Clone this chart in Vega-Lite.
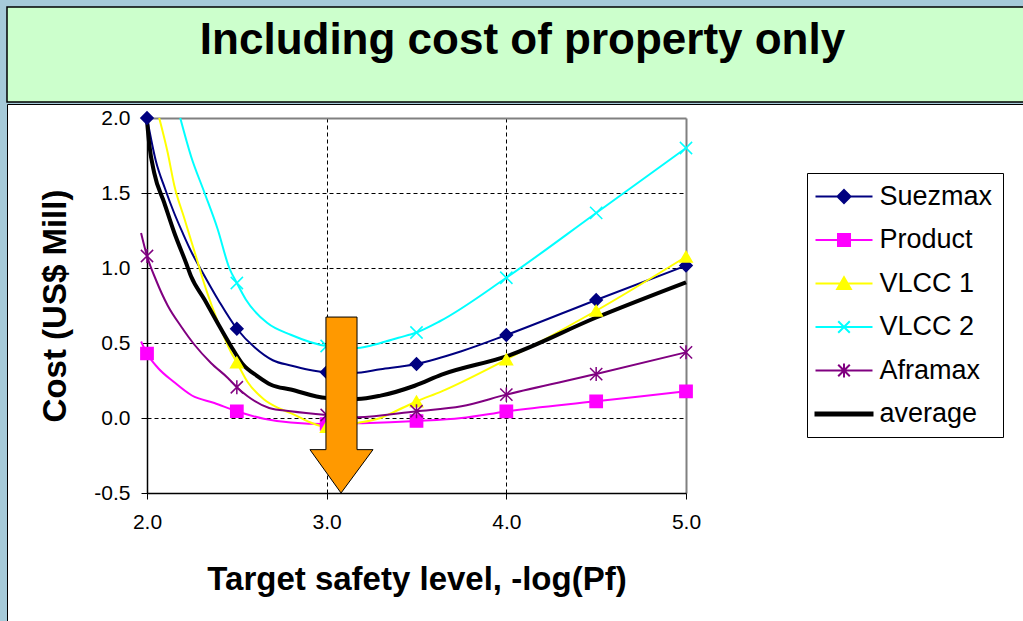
{
  "$schema": "https://vega.github.io/schema/vega-lite/v6.json",
  "background": "#a6cad9",
  "padding": {"left": 6, "top": 6, "right": 0, "bottom": 0},
  "spacing": 0,
  "config": {
    "font": "Liberation Sans",
    "axis": {
      "labelFont": "Liberation Sans",
      "labelFontSize": 21,
      "labelColor": "black",
      "labelFlush": false,
      "titleFont": "Liberation Sans",
      "titleFontSize": 33,
      "titleFontWeight": "bold",
      "titleColor": "black",
      "tickColor": "black",
      "tickSize": 6,
      "tickWidth": 1,
      "domainColor": "black",
      "domainWidth": 1.5
    },
    "legend": {
      "title": null,
      "orient": "none",
      "legendX": 800,
      "legendY": 69,
      "direction": "vertical",
      "padding": 10,
      "rowPadding": 15.5,
      "strokeColor": "black",
      "fillColor": "white",
      "symbolSize": 400,
      "symbolOffset": 13.5,
      "symbolOpacity": 1,
      "symbolStrokeWidth": 2,
      "labelOffset": 22,
      "labelFont": "Liberation Sans",
      "labelFontSize": 27,
      "labelColor": "black",
      "labelLimit": 0
    }
  },
  "datasets": {
    "heading": [{"text": "Including cost of property only"}],
    "arrow": [
      {"order": 1, "level": 3.08, "cost": -0.5},
      {"order": 2, "level": 3.258, "cost": -0.211},
      {"order": 3, "level": 3.169, "cost": -0.211},
      {"order": 4, "level": 3.169, "cost": 0.673},
      {"order": 5, "level": 2.996, "cost": 0.673},
      {"order": 6, "level": 2.996, "cost": -0.211},
      {"order": 7, "level": 2.907, "cost": -0.211},
      {"order": 8, "level": 3.08, "cost": -0.5}
    ],
    "costs": [
      {"series": "Suezmax", "level": 2.0, "cost": 2.0},
      {"series": "Suezmax", "level": 2.05, "cost": 1.71},
      {"series": "Suezmax", "level": 2.1, "cost": 1.53},
      {"series": "Suezmax", "level": 2.15, "cost": 1.37},
      {"series": "Suezmax", "level": 2.2, "cost": 1.23},
      {"series": "Suezmax", "level": 2.25, "cost": 1.1},
      {"series": "Suezmax", "level": 2.3, "cost": 0.99},
      {"series": "Suezmax", "level": 2.4, "cost": 0.78},
      {"series": "Suezmax", "level": 2.5, "cost": 0.595},
      {"series": "Suezmax", "level": 2.6, "cost": 0.47},
      {"series": "Suezmax", "level": 2.7, "cost": 0.385},
      {"series": "Suezmax", "level": 2.8, "cost": 0.35},
      {"series": "Suezmax", "level": 2.9, "cost": 0.322},
      {"series": "Suezmax", "level": 3.0, "cost": 0.305},
      {"series": "Suezmax", "level": 3.15, "cost": 0.3},
      {"series": "Suezmax", "level": 3.3, "cost": 0.325},
      {"series": "Suezmax", "level": 3.5, "cost": 0.36},
      {"series": "Suezmax", "level": 3.75, "cost": 0.445},
      {"series": "Suezmax", "level": 4.0, "cost": 0.553},
      {"series": "Suezmax", "level": 4.5, "cost": 0.787},
      {"series": "Suezmax", "level": 5.0, "cost": 1.016},

      {"series": "Product", "level": 1.967, "cost": 0.51},
      {"series": "Product", "level": 2.0, "cost": 0.43},
      {"series": "Product", "level": 2.06, "cost": 0.335},
      {"series": "Product", "level": 2.15, "cost": 0.24},
      {"series": "Product", "level": 2.25, "cost": 0.15},
      {"series": "Product", "level": 2.375, "cost": 0.1},
      {"series": "Product", "level": 2.5, "cost": 0.045},
      {"series": "Product", "level": 2.65, "cost": -0.005},
      {"series": "Product", "level": 2.8, "cost": -0.03},
      {"series": "Product", "level": 3.0, "cost": -0.04},
      {"series": "Product", "level": 3.2, "cost": -0.035},
      {"series": "Product", "level": 3.5, "cost": -0.02},
      {"series": "Product", "level": 3.75, "cost": 0.0},
      {"series": "Product", "level": 4.0, "cost": 0.044},
      {"series": "Product", "level": 4.5, "cost": 0.111},
      {"series": "Product", "level": 5.0, "cost": 0.178},

      {"series": "VLCC 1", "level": 2.068, "cost": 2.0},
      {"series": "VLCC 1", "level": 2.115, "cost": 1.77},
      {"series": "VLCC 1", "level": 2.152, "cost": 1.55},
      {"series": "VLCC 1", "level": 2.208, "cost": 1.33},
      {"series": "VLCC 1", "level": 2.282, "cost": 1.04},
      {"series": "VLCC 1", "level": 2.32, "cost": 0.89},
      {"series": "VLCC 1", "level": 2.4, "cost": 0.625},
      {"series": "VLCC 1", "level": 2.467, "cost": 0.44},
      {"series": "VLCC 1", "level": 2.5, "cost": 0.37},
      {"series": "VLCC 1", "level": 2.56, "cost": 0.24},
      {"series": "VLCC 1", "level": 2.65, "cost": 0.125},
      {"series": "VLCC 1", "level": 2.73, "cost": 0.067},
      {"series": "VLCC 1", "level": 2.8, "cost": 0.033},
      {"series": "VLCC 1", "level": 2.9, "cost": -0.025},
      {"series": "VLCC 1", "level": 3.0, "cost": -0.06},
      {"series": "VLCC 1", "level": 3.17, "cost": -0.033},
      {"series": "VLCC 1", "level": 3.3, "cost": 0.0},
      {"series": "VLCC 1", "level": 3.4, "cost": 0.055},
      {"series": "VLCC 1", "level": 3.5, "cost": 0.11},
      {"series": "VLCC 1", "level": 3.64, "cost": 0.178},
      {"series": "VLCC 1", "level": 4.0, "cost": 0.39},
      {"series": "VLCC 1", "level": 4.5, "cost": 0.715},
      {"series": "VLCC 1", "level": 5.0, "cost": 1.075},

      {"series": "VLCC 2", "level": 2.185, "cost": 2.0},
      {"series": "VLCC 2", "level": 2.245, "cost": 1.745},
      {"series": "VLCC 2", "level": 2.319, "cost": 1.505},
      {"series": "VLCC 2", "level": 2.393, "cost": 1.26},
      {"series": "VLCC 2", "level": 2.458, "cost": 1.0},
      {"series": "VLCC 2", "level": 2.5, "cost": 0.9},
      {"series": "VLCC 2", "level": 2.55, "cost": 0.79},
      {"series": "VLCC 2", "level": 2.67, "cost": 0.633},
      {"series": "VLCC 2", "level": 2.8, "cost": 0.555},
      {"series": "VLCC 2", "level": 3.0, "cost": 0.48},
      {"series": "VLCC 2", "level": 3.17, "cost": 0.467},
      {"series": "VLCC 2", "level": 3.3, "cost": 0.5},
      {"series": "VLCC 2", "level": 3.4, "cost": 0.535},
      {"series": "VLCC 2", "level": 3.5, "cost": 0.57},
      {"series": "VLCC 2", "level": 3.63, "cost": 0.645},
      {"series": "VLCC 2", "level": 4.0, "cost": 0.935},
      {"series": "VLCC 2", "level": 4.5, "cost": 1.367},
      {"series": "VLCC 2", "level": 5.0, "cost": 1.8},

      {"series": "Aframax", "level": 1.967, "cost": 1.233},
      {"series": "Aframax", "level": 2.0, "cost": 1.08},
      {"series": "Aframax", "level": 2.05, "cost": 0.92},
      {"series": "Aframax", "level": 2.115, "cost": 0.75},
      {"series": "Aframax", "level": 2.19, "cost": 0.61},
      {"series": "Aframax", "level": 2.263, "cost": 0.49},
      {"series": "Aframax", "level": 2.356, "cost": 0.367},
      {"series": "Aframax", "level": 2.45, "cost": 0.267},
      {"series": "Aframax", "level": 2.5, "cost": 0.205},
      {"series": "Aframax", "level": 2.56, "cost": 0.145},
      {"series": "Aframax", "level": 2.68, "cost": 0.067},
      {"series": "Aframax", "level": 2.8, "cost": 0.045},
      {"series": "Aframax", "level": 3.0, "cost": 0.02},
      {"series": "Aframax", "level": 3.17, "cost": 0.005},
      {"series": "Aframax", "level": 3.5, "cost": 0.045},
      {"series": "Aframax", "level": 3.75, "cost": 0.078},
      {"series": "Aframax", "level": 4.0, "cost": 0.156},
      {"series": "Aframax", "level": 4.5, "cost": 0.293},
      {"series": "Aframax", "level": 5.0, "cost": 0.438},

      {"series": "average", "level": 2.0, "cost": 1.98},
      {"series": "average", "level": 2.013, "cost": 1.82},
      {"series": "average", "level": 2.04, "cost": 1.635},
      {"series": "average", "level": 2.096, "cost": 1.435},
      {"series": "average", "level": 2.152, "cost": 1.235},
      {"series": "average", "level": 2.217, "cost": 1.035},
      {"series": "average", "level": 2.245, "cost": 0.945},
      {"series": "average", "level": 2.32, "cost": 0.79},
      {"series": "average", "level": 2.393, "cost": 0.633},
      {"series": "average", "level": 2.467, "cost": 0.48},
      {"series": "average", "level": 2.532, "cost": 0.36},
      {"series": "average", "level": 2.616, "cost": 0.278},
      {"series": "average", "level": 2.69, "cost": 0.222},
      {"series": "average", "level": 2.8, "cost": 0.19},
      {"series": "average", "level": 3.0, "cost": 0.133},
      {"series": "average", "level": 3.17, "cost": 0.127},
      {"series": "average", "level": 3.3, "cost": 0.149},
      {"series": "average", "level": 3.49, "cost": 0.215},
      {"series": "average", "level": 3.64, "cost": 0.289},
      {"series": "average", "level": 4.0, "cost": 0.411},
      {"series": "average", "level": 4.5, "cost": 0.67},
      {"series": "average", "level": 5.0, "cost": 0.905}
    ]
  },
  "vconcat": [
    {
      "width": 1017,
      "height": 95,
      "view": {"fill": "#ccffcc", "stroke": "black", "strokeWidth": 1.5},
      "data": {"name": "heading"},
      "mark": {
        "type": "text",
        "font": "Liberation Sans",
        "fontSize": 44,
        "fontWeight": "bold",
        "color": "black",
        "baseline": "middle",
        "dx": 7,
        "dy": -14
      },
      "encoding": {"text": {"field": "text", "type": "nominal"}}
    },
    {
      "width": 1017,
      "height": 520,
      "view": {"fill": "white", "stroke": "black", "strokeWidth": 1},
      "data": {"name": "costs"},
      "resolve": {"scale": {"fill": "independent", "stroke": "independent", "shape": "independent"}},
      "encoding": {
        "x": {
          "field": "level",
          "type": "quantitative",
          "scale": {"domain": [2, 5], "range": [140, 679], "zero": false, "nice": false},
          "axis": {
            "orient": "bottom",
            "offset": -131,
            "grid": false,
            "values": [2, 3, 4, 5],
            "format": ".1f",
            "title": "Target safety level, -log(Pf)",
            "titlePadding": 31,
            "labelPadding": 12
          }
        },
        "y": {
          "field": "cost",
          "type": "quantitative",
          "scale": {"domain": [-0.5, 2], "range": [389, 14], "zero": false, "nice": false},
          "axis": {
            "orient": "left",
            "offset": -140,
            "grid": true,
            "values": [-0.5, 0, 0.5, 1, 1.5, 2],
            "labelExpr": "datum.value < 0 ? '-' + format(-datum.value, '.1f') : format(datum.value, '.1f')",
            "title": "Cost (US$ Mill)",
            "titlePadding": 21,
            "labelPadding": 11,
            "gridColor": {"condition": {"test": "datum.value === 2", "value": "#808080"}, "value": "black"},
            "gridDash": {"condition": {"test": "datum.value === 2", "value": []}, "value": [4, 3]},
            "gridWidth": {"condition": {"test": "datum.value === 2", "value": 2}, "value": 1}
          }
        }
      },
      "layer": [
        {
          "transform": [{"filter": "datum.series !== 'average'"}],
          "mark": {"type": "line", "interpolate": "monotone", "strokeWidth": 2},
          "encoding": {
            "stroke": {
              "field": "series",
              "type": "nominal",
              "scale": {
                "domain": ["Suezmax", "Product", "VLCC 1", "VLCC 2", "Aframax", "average"],
                "range": ["#000080", "#ff00ff", "#ffff00", "#00ffff", "#800080", "#000000"]
              },
              "legend": null
            }
          }
        },
        {
          "transform": [{"filter": "datum.series === 'average'"}],
          "mark": {"type": "line", "interpolate": "monotone", "strokeWidth": 4, "color": "black"},
          "encoding": {
            "x": {"field": "level", "type": "quantitative", "axis": null}
          }
        },
        {
          "transform": [{"filter": "datum.series !== 'average' && datum.level * 2 === round(datum.level * 2)"}],
          "mark": {"type": "point", "filled": true, "size": 150, "strokeWidth": 1.5, "opacity": 1},
          "encoding": {
            "x": {"field": "level", "type": "quantitative", "axis": null},
            "fill": {
              "field": "series",
              "type": "nominal",
              "scale": {
                "domain": ["Suezmax", "Product", "VLCC 1", "VLCC 2", "Aframax", "average"],
                "range": ["#000080", "#ff00ff", "#ffff00", "#00ffff", "#800080", "#000000"]
              },
              "legend": null
            },
            "stroke": {
              "field": "series",
              "type": "nominal",
              "scale": {
                "domain": ["Suezmax", "Product", "VLCC 1", "VLCC 2", "Aframax", "average"],
                "range": ["#000080", "#ff00ff", "#ffff00", "#00ffff", "#800080", "#000000"]
              },
              "legend": null
            },
            "shape": {
              "field": "series",
              "type": "nominal",
              "scale": {
                "domain": ["Suezmax", "Product", "VLCC 1", "VLCC 2", "Aframax", "average"],
                "range": ["diamond", "square", "triangle-up", "M-1,-1L1,1M-1,1L1,-1", "M-1,-1L1,1M-1,1L1,-1M0,-1.15L0,1.15", "circle"]
              },
              "legend": null
            }
          }
        },
        {
          "transform": [{"filter": "datum.level === 5"}],
          "mark": {"type": "point", "filled": true, "size": 400, "opacity": 0},
          "encoding": {
            "x": {"field": "level", "type": "quantitative", "axis": null},
            "fill": {
              "field": "series",
              "type": "nominal",
              "scale": {
                "domain": ["Suezmax", "Product", "VLCC 1", "VLCC 2", "Aframax", "average"],
                "range": ["#000080", "#ff00ff", "#ffff00", "#00ffff", "#800080", "#000000"]
              },
              "legend": {"title": null}
            },
            "stroke": {
              "field": "series",
              "type": "nominal",
              "scale": {
                "domain": ["Suezmax", "Product", "VLCC 1", "VLCC 2", "Aframax", "average"],
                "range": ["#000080", "#ff00ff", "#ffff00", "#00ffff", "#800080", "#000000"]
              },
              "legend": {"title": null}
            },
            "shape": {
              "field": "series",
              "type": "nominal",
              "scale": {
                "domain": ["Suezmax", "Product", "VLCC 1", "VLCC 2", "Aframax", "average"],
                "range": [
                  "M-2.85,0L2.85,0M0,-0.65L0.65,0L0,0.65L-0.65,0Z",
                  "M-2.85,0L2.85,0M-0.6,-0.6L0.6,-0.6L0.6,0.6L-0.6,0.6Z",
                  "M-2.85,0L2.85,0M0,-0.62L0.68,0.55L-0.68,0.55Z",
                  "M-2.85,0L2.85,0M-0.58,-0.58L0.58,0.58M-0.58,0.58L0.58,-0.58",
                  "M-2.85,0L2.85,0M-0.58,-0.58L0.58,0.58M-0.58,0.58L0.58,-0.58M0,-0.7L0,0.7",
                  "M-2.85,-0.15L2.85,-0.15L2.85,0.15L-2.85,0.15Z"
                ]
              },
              "legend": {"title": null}
            }
          }
        },
        {
          "data": {"name": "arrow"},
          "mark": {"type": "line", "fill": "#ff9900", "stroke": "black", "strokeWidth": 1, "interpolate": "linear"},
          "encoding": {
            "x": {
              "field": "level",
              "type": "quantitative",
              "axis": {
                "orient": "top",
                "offset": 0,
                "grid": true,
                "labels": false,
                "ticks": false,
                "domain": false,
                "title": null,
                "values": [2, 3, 4, 5],
                "gridColor": {"condition": {"test": "datum.value === 5", "value": "#808080"}, "value": "black"},
                "gridDash": {"condition": {"test": "datum.value === 5", "value": []}, "value": [4, 3]},
                "gridWidth": {"condition": {"test": "datum.value === 5", "value": 2}, "value": 1}
              }
            },
            "order": {"field": "order", "type": "quantitative"}
          }
        }
      ]
    }
  ]
}
